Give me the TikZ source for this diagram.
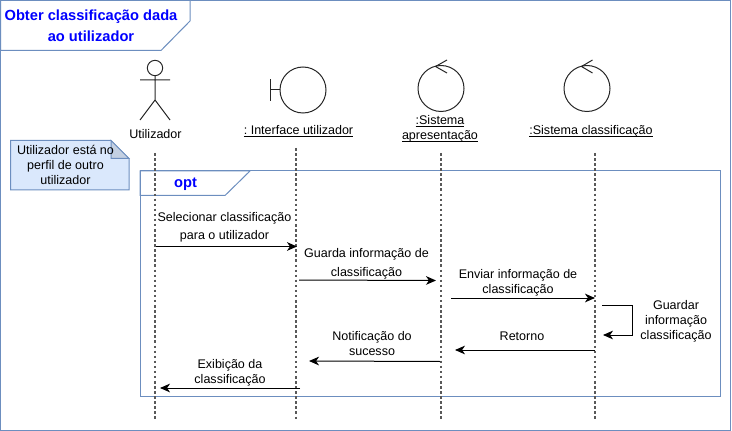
\documentclass[tikz,border=0pt]{standalone}
\usepackage{fontspec}
\setmainfont{Liberation Sans}
\usetikzlibrary{arrows.meta,shapes.geometric}
\definecolor{seqframe}{HTML}{6C8EBF}
\definecolor{seqnote}{HTML}{DAE8FC}
\definecolor{seqfold}{HTML}{C3D0E2}
\definecolor{seqtitle}{RGB}{0,0,255}
\newcommand{\ulabel}[1]{\underline{\smash{#1}}}
\tikzset{
  frameline/.style={draw=seqframe,line width=0.75pt},
  ltext/.style={align=center,font=\fontsize{9.4}{11.25}\selectfont,inner sep=0pt,text=black},
  ftitle/.style={align=center,font=\fontsize{11}{15.5}\selectfont\bfseries,inner sep=0pt,text=seqtitle},
  symb/.style={draw=black!85,line width=0.75pt},
  lifeline/.style={draw=black!65,line width=0.8pt,dash pattern=on 1.9pt off 1.9pt},
  msg/.style={-{Stealth[length=7.5pt,width=6.5pt,inset=2.2pt]},draw=black,line width=0.75pt},
  circ/.style={circle,symb,minimum size=34.5pt,inner sep=0pt},
}
\begin{document}
\begin{tikzpicture}[x=0.75pt,y=-0.75pt]
\useasboundingbox (0,0) rectangle (732,431);
% outer frame and title tab
\draw[frameline] (0.5,0.5) rectangle (730.5,430.5);
\draw[frameline,fill=white] (0.5,0.5) -- (190,0.5) -- (190,21) -- (161,50.5) -- (0.5,50.5) -- cycle;
\node[ftitle] (title) at (91,25.5) {Obter classificação dada\\ao utilizador};
% opt fragment
\draw[frameline] (140,171) rectangle (720.5,396);
\draw[frameline] (140,171) -- (250,171) -- (225,195.5) -- (140,195.5) -- cycle;
\node[ftitle] (opt) at (185.5,184) {opt};
% note
\draw[frameline,fill=seqnote] (10.5,140.5) -- (111,140.5) -- (129,158.5) -- (129,190) -- (10.5,190) -- cycle;
\draw[frameline,fill=seqfold] (111,140.5) -- (129,158.5) -- (111,158.5) -- cycle;
\node[ltext] (note) at (65.5,165) {Utilizador está no\\perfil de outro\\utilizador};
% actor
\node[circle,symb,minimum size=11.5pt,inner sep=0pt] (head) at (155,68) {};
\coordinate (hip) at (155,100);
\coordinate (armL) at (140,80);
\coordinate (armR) at (170,80);
\coordinate (legL) at (140,120);
\coordinate (legR) at (170,120);
\draw[symb] (head.south) -- (hip) (armL) -- (armR) (legL) -- (hip) -- (legR);
\node[ltext] (user) at (155.5,134) {Utilizador};
% boundary
\node[circ] (iface) at (303,90) {};
\coordinate (stem) at (270,90);
\coordinate (barT) at (270,79.5);
\coordinate (barB) at (270,101.5);
\draw[symb] (iface.west) -- (stem) (barT) -- (barB);
\node[ltext,anchor=base] (ifacel) at (298.5,134.5) {\ulabel{:\ Interface utilizador}};
% controls
\node[circ] (apres) at (441,88.5) {};
\draw[symb] (447,60) -- (435.5,66.5) -- (447,73);
\node[ltext,anchor=base] (apresl) at (440,139.5) {\ulabel{:Sistema}\\\ulabel{apresentação}};
\node[circ] (class) at (587,88.5) {};
\draw[symb] (592.5,60) -- (581.5,66.5) -- (592.5,73);
\node[ltext,anchor=base] (classl) at (591,134.5) {\ulabel{:Sistema classificação}};
% lifelines
\foreach \n/\x/\y in {a/155/153,b/296/148,c/441/153,d/595/153}{
  \coordinate (\n top) at (\x,\y);
  \coordinate (\n end) at (\x,420);
  \draw[lifeline] (\n top) -- (\n end);
}
% messages
\coordinate (m1a) at (156,246.5);
\coordinate (m1b) at (297,246.5);
\draw[msg] (m1a) -- (m1b);
\coordinate (m2a) at (299,280);
\coordinate (m2b) at (436,280.5);
\draw[msg] (m2a) -- (m2b);
\coordinate (m3a) at (451,298);
\coordinate (m3b) at (595,298);
\draw[msg] (m3a) -- (m3b);
\coordinate (m4a) at (602,305);
\coordinate (m4b) at (603,335);
\draw[msg] (m4a) -- (632.5,305) -- (632.5,335) -- (m4b);
\coordinate (m5a) at (595,350);
\coordinate (m5b) at (455,350);
\draw[msg] (m5a) -- (m5b);
\coordinate (m6a) at (440,361.5);
\coordinate (m6b) at (309,361);
\draw[msg] (m6a) -- (m6b);
\coordinate (m7a) at (300,388);
\coordinate (m7b) at (160,388);
\draw[msg] (m7a) -- (m7b);
% message labels
\node[ltext] (l1) at (224.5,227) {Selecionar classificação\\[2.2pt]para o utilizador};
\node[ltext] (l2) at (366.5,263.5) {Guarda informação de\\[3pt]classificação};
\node[ltext] (l3) at (518,283) {Enviar informação de\\classificação};
\node[ltext] (l4) at (676,321) {Guardar\\informação\\classificação};
\node[ltext] (l5) at (522,336) {Retorno};
\node[ltext] (l6) at (372,343.5) {Notificação do\\sucesso};
\node[ltext] (l7) at (230,373) {Exibição da\\classificação};
\end{tikzpicture}
\end{document}
